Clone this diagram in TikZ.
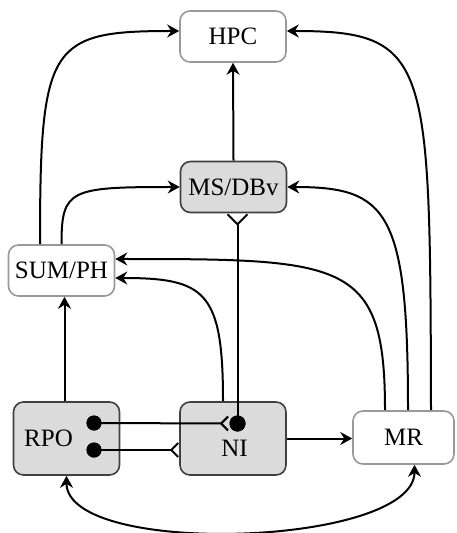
\documentclass[tikz,border=0pt]{standalone}
\usepackage{fontspec}
\setmainfont{Liberation Serif}
\usetikzlibrary{arrows.meta}

\begin{document}
\begin{tikzpicture}[x=0.5pt, y=-0.5pt, font=\fontsize{12.5}{14}\selectfont,
  >={Stealth[length=6pt, width=6.5pt, inset=2pt]},
  box/.style = {shape=rectangle, rounded corners=5pt, draw=black!40, fill=white, line width=0.8pt, minimum width=53pt, minimum height=25.5pt, inner sep=0pt},
  graybox/.style = {box, draw=black!75, fill=black!14},
  dot/.style = {circle, fill=black, inner sep=0pt, minimum size=7.5pt},
  link/.style = {line width=1pt, ->},
  socket/.style = {line width=1pt, -{Straight Barb[reversed, length=3.5pt, width=7pt]}}]
  \useasboundingbox (0,0) rectangle (456,533);
  \node[box] (hpc) at (233,36.5) {HPC};
  \node[graybox] (ms) at (233.5,187) {MS/DBv};
  \node[box] (sp) at (61.5,270.5) {SUM/PH};
  \node[graybox, minimum height=36.5pt] (rpo) at (66.5,438.5) {};
  \node (rpo-text) at (48.5,438) {RPO};
  \node[graybox, minimum height=36.5pt] (ni) at (233,438.5) {};
  \node (ni-text) at (234.5,448) {NI};
  \node[box, minimum width=50.5pt, minimum height=26.5pt] (mr) at (403.5,437.5) {MR};
  \node[dot] (rpo-a) at (94,423) {};
  \node[dot] (rpo-b) at (94,450) {};
  \node[dot, minimum size=8pt] (ni-dot) at (237.5,423.5) {};

  \draw[link] ([xshift=-1pt]rpo.north) -- ([xshift=-1pt]rpo.north |- sp.south);
  \draw[link] (ms.north) -- (hpc.south);
  \draw[link] (ni.east) -- (ni.east -| mr.west);
  \draw[link] ([xshift=-10.75pt]sp.north) .. controls +(0,-200) and +(-130,0) .. ([yshift=2.75pt]hpc.west);
  \draw[link] (sp.north) .. controls +(0,-55) and +(-110,0) .. (ms.west);
  \draw[link] ([xshift=-5pt]ni.north) .. controls +(0,-110) and +(90,0) .. ([yshift=-3.75pt]sp.east);
  \draw[link] ([xshift=-9.25pt]mr.north) .. controls +(0,-150) and +(230,0) .. ([yshift=5.75pt]sp.east);
  \draw[link] ([xshift=2.25pt]mr.north) .. controls +(0,-200) and +(100,0) .. (ms.east);
  \draw[link] ([xshift=13.75pt]mr.north) .. controls +(-1,-351) and +(144,0) .. ([yshift=2.75pt]hpc.east);
  \draw[link, <->] (rpo.south) .. controls +(0,82) and +(0,82) .. ([xshift=5.5pt]mr.south);
  \draw[socket] (rpo-a.center) -- (ni-dot.west);
  \draw[socket] (rpo-b.center) -- (rpo-b.center -| ni.west);
  \draw[socket, -{Straight Barb[reversed, length=5pt, width=10pt]}] (ni-dot.center) -- (ni-dot.center |- ms.south);
  \node[dot] at (rpo-a) {};
  \node[dot] at (rpo-b) {};
  \node[dot, minimum size=8pt] at (ni-dot) {};
\end{tikzpicture}
\end{document}
